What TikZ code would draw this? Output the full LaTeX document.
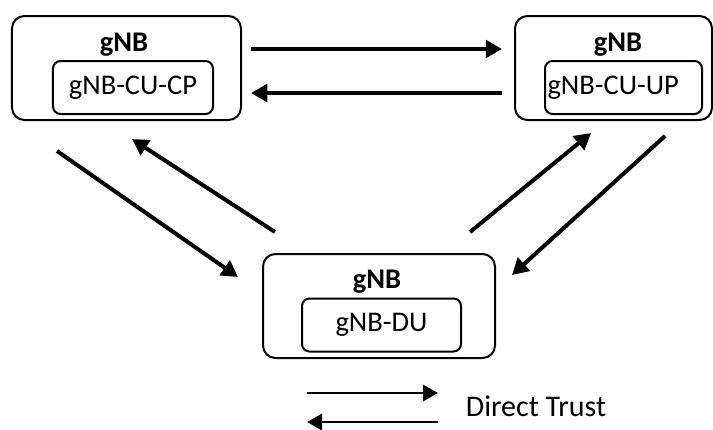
\documentclass[tikz,border=0pt]{standalone}
\usepackage{fontspec}
\setmainfont{Carlito}
\usetikzlibrary{arrows.meta,positioning,calc}

\begin{document}
\begin{tikzpicture}[x=0.4pt,y=-0.4pt,every node/.style={font=\fontsize{11.4}{13}\selectfont},gnb/.style={draw,line width=0.8pt,rounded corners=5pt,minimum width=#1,minimum height=41.6pt},unit/.style={draw,line width=0.8pt,rounded corners=3pt,minimum width=#1,minimum height=21.2pt,inner sep=1pt},title/.style={font=\fontsize{11.4}{13}\selectfont\bfseries},trust/.style={-{Triangle[length=6.5pt,width=7pt]},line width=1.6pt},legend/.style={-{Triangle[length=6pt,width=6.5pt]},line width=1pt}]
\useasboundingbox (0,0) rectangle (713,429);
\node[gnb=91.6pt] (cp) at (126.5,68) {};
\node[title] (cptitle) at (124,45) {gNB};
\node[unit=64pt] (cpunit) at (133,87.5) {gNB-CU-CP};
\node[gnb=78.8pt] (up) at (613.5,68) {};
\node[title] (uptitle) at (618,45) {gNB};
\node[unit=62.8pt,text width=60.8pt,align=left] (upunit) at (623.5,87.5) {gNB-CU-UP};
\node[gnb=92.8pt] (du) at (379,306) {};
\node[title] (dutitle) at (377,282) {gNB};
\node[unit=63.6pt] (duunit) at (381.5,325) {gNB-DU};
\draw[trust] ($(cp.east)+(9,-19)$) -- ($(up.west)+(-12,-19)$);
\draw[trust] ($(up.west)+(-12,25)$) -- ($(cp.east)+(9,25)$);
\draw[trust] ($(cp.south)+(-69.5,30)$) -- ($(du.west)+(-24,-29)$);
\draw[trust] ($(du.north)+(-104,-21)$) -- ($(cp.south)+(5.5,18)$);
\draw[trust] ($(du.north)+(91,-21)$) -- ($(up.south)+(-22.5,12)$);
\draw[trust] ($(up.south)+(51.5,15)$) -- ($(du.east)+(16,-31)$);
\node[anchor=west,font=\fontsize{12}{14}\selectfont] (direct) at (457,406) {Direct Trust};
\draw[legend] ($(direct.west)+(-150,-13)$) -- ($(direct.west)+(-19,-13)$);
\draw[legend] ($(direct.west)+(-19,16)$) -- ($(direct.west)+(-150,16)$);
\end{tikzpicture}
\end{document}
